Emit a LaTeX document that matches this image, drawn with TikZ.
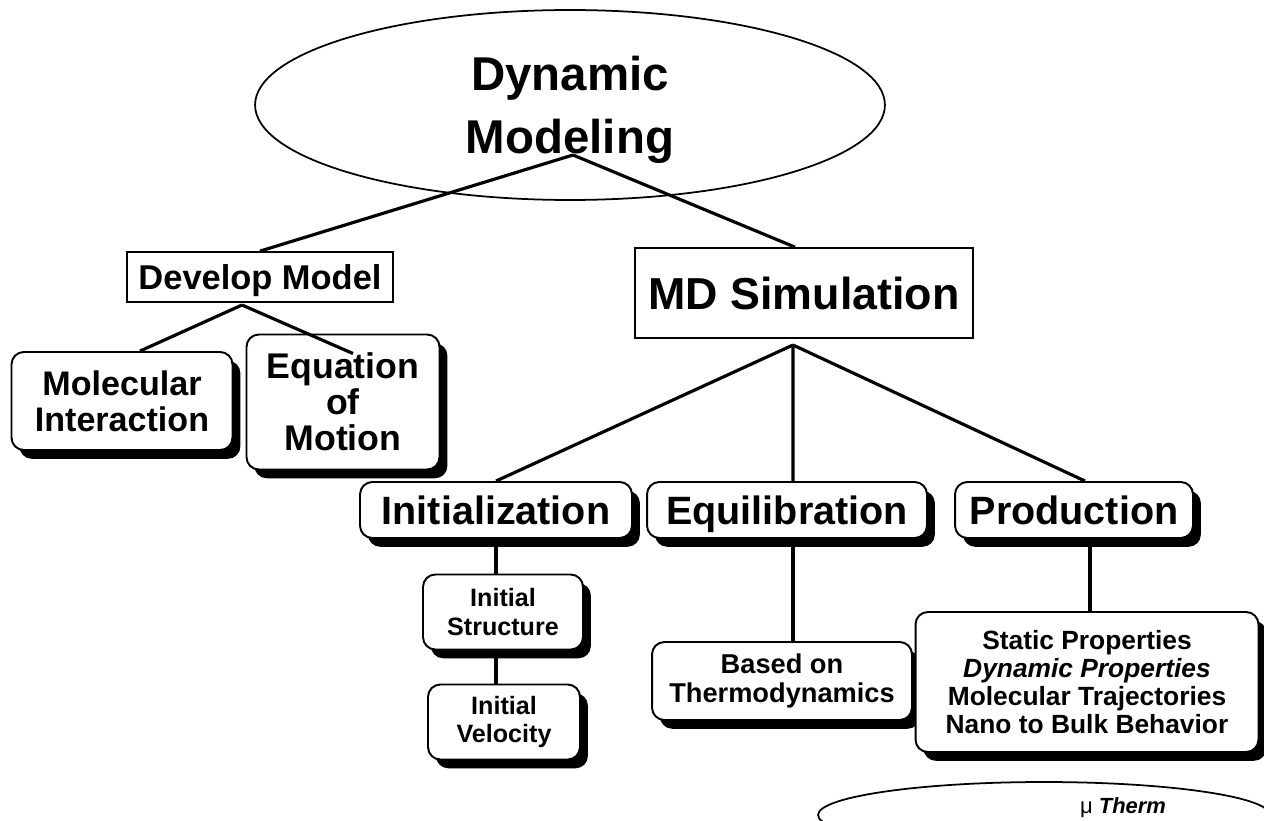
\documentclass[tikz,border=0pt]{standalone}
\usepackage{fontspec}
\setmainfont{Liberation Sans}
\usetikzlibrary{shapes.geometric,shadows}

\newcommand{\fsz}[2]{\fontsize{#1pt}{#2pt}\selectfont}

\tikzset{
  sbox/.style={draw,line width=1pt,fill=white,inner sep=0pt,align=center},
  rbox/.style={draw,line width=1.1pt,rounded corners=7pt,fill=white,inner sep=0pt,align=center,
    drop shadow={shadow xshift=4.5pt,shadow yshift=-5pt,fill=black,opacity=1}},
  oneline/.style={text height=#1,text depth=0pt},
  link/.style={line width=1.8pt},
}

\begin{document}
\begin{tikzpicture}[x=0.02cm,y=-0.02cm]
\useasboundingbox (0,0) rectangle (1264,821);
\clip (0,0) rectangle (1264,821);

%------------------------------------------------
% Top: main topic
%------------------------------------------------
\node[draw,ellipse,line width=1pt,minimum width=12.6cm,minimum height=3.8cm,inner sep=0pt,align=center,
  text depth=0pt,font=\bfseries\fsz{27}{35.7}] (dm) at (570,105) {Dynamic\\Modeling};
\coordinate (dmfoot) at (573,155);

% Second level
\node[sbox,oneline=14pt,minimum width=5.32cm,minimum height=1cm,font=\bfseries\fsz{19.6}{23}] (dev) at (260,277) {Develop Model};
\node[sbox,oneline=18.3pt,minimum width=6.76cm,minimum height=1.8cm,font=\bfseries\fsz{25.5}{30}] (md) at (804,293) {MD Simulation};
\coordinate (devfoot) at (242,305);
\coordinate (mdfoot) at (793,345);

%------------------------------------------------
% Develop model branch
%------------------------------------------------
\node[rbox,minimum width=4.42cm,minimum height=1.96cm,font=\bfseries\fsz{19.4}{20.4}] (mol) at (122,401) {Molecular\\Interaction};
\node[rbox,minimum width=3.86cm,minimum height=2.7cm,font=\bfseries\fsz{20.3}{20.5}] (eqn) at (343,402) {Equation\\of\\Motion};

%------------------------------------------------
% MD simulation branch
%------------------------------------------------
\node[rbox,oneline=16.1pt,minimum width=5.44cm,minimum height=1.12cm,font=\bfseries\fsz{22.5}{26}] (init) at (496,510) {Initialization};
\node[rbox,oneline=16.1pt,minimum width=5.6cm,minimum height=1.12cm,font=\bfseries\fsz{22.5}{26}] (equi) at (787,510) {Equilibration};
\node[rbox,oneline=16.1pt,minimum width=4.76cm,minimum height=1.12cm,font=\bfseries\fsz{22.5}{26}] (prod) at (1074,510) {Production};

\node[rbox,minimum width=3.2cm,minimum height=1.5cm,font=\bfseries\fsz{14.3}{16}] (ist) at (503,612) {Initial\\Structure};
\node[rbox,minimum width=3.04cm,minimum height=1.5cm,font=\bfseries\fsz{14.3}{16}] (ivel) at (504,722) {Initial\\Velocity};
\node[rbox,minimum width=5.2cm,minimum height=1.56cm,font=\bfseries\fsz{15.5}{16}] (thermo) at (782,681) {Based on\\Thermodynamics};
\node[rbox,minimum width=6.86cm,minimum height=2.8cm,font=\bfseries\fsz{15}{16}] (props) at (1087,682)
  {Static Properties\\\textit{Dynamic Properties}\\Molecular Trajectories\\Nano to Bulk Behavior};

% Bottom label
\node[draw,ellipse,line width=1pt,minimum width=9.04cm,minimum height=1.32cm] (mu) at (1044,815) {};
\node[font=\fsz{12.5}{15}] (mutext) at (1123,808) {μ \textbf{\textit{Therm}}};

%------------------------------------------------
% Connectors
%------------------------------------------------
\draw[link] (dmfoot) -- (dev.north);
\draw[link] (dmfoot) -- ([xshift=-0.18cm]md.north);

\draw[link] (devfoot) -- ([xshift=0.36cm]mol.north);
\draw[link] (devfoot) -- ([shift={(0.2cm,-0.4cm)}]eqn.north);

\draw[link] (mdfoot) -- (init.north);
\draw[link] (mdfoot) -- ([xshift=0.12cm]equi.north);
\draw[link] (mdfoot) -- ([xshift=0.22cm]prod.north);

\draw[link] (init.south) -- (init.south |- ist.north);
\draw[link] (init.south |- ist.south) -- (init.south |- ivel.north);
\draw[link] ([xshift=0.12cm]equi.south) -- ([xshift=0.12cm]equi.south |- thermo.north);
\draw[link] ([xshift=0.32cm]prod.south) -- ([xshift=0.32cm]prod.south |- props.north);

\end{tikzpicture}
\end{document}
